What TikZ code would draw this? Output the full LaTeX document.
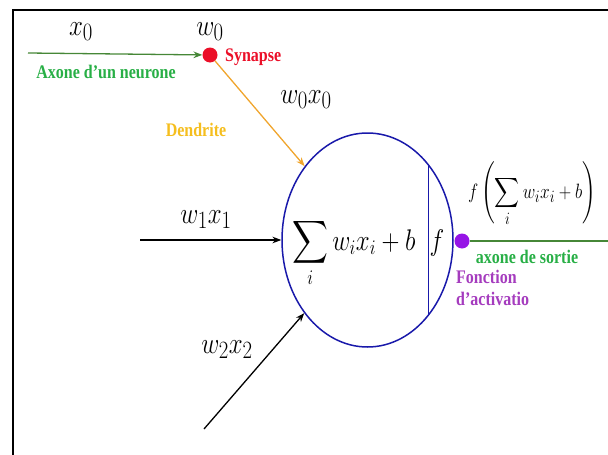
\documentclass[tikz,border=0pt]{standalone}
\usepackage{amsmath}
\usepackage{graphicx}
\usepackage[no-math]{fontspec}
\setmainfont{Liberation Serif}
\usepackage{tikz}
\usetikzlibrary{positioning,arrows.meta,shapes.geometric}

\definecolor{axgreen}{RGB}{70,135,55}
\definecolor{txtgreen}{RGB}{40,175,70}
\definecolor{synred}{RGB}{235,15,40}
\definecolor{dendorange}{RGB}{240,165,45}
\definecolor{dendtext}{RGB}{245,190,30}
\definecolor{cellblue}{RGB}{25,25,170}
\definecolor{actpurple}{RGB}{150,20,230}
\definecolor{acttext}{RGB}{165,60,190}

% taller glyphs, as in the scan
\newcommand{\tall}[1]{\scalebox{1}[1.2]{#1}}

\begin{document}
\begin{tikzpicture}[
        x=1pt, y=-1pt,
        >=Stealth,
        lbl/.style={font=\bfseries\fontsize{16}{23}\selectfont, inner sep=0pt},
        mth/.style={font=\fontsize{28}{32}\selectfont, inner sep=0pt},
        body/.style={font=\fontsize{25}{30}\selectfont, inner sep=0pt},
        dot/.style={circle, inner sep=0pt, minimum size=15pt},
        wire/.style={->, line width=1.3pt}
      ]
      \useasboundingbox (0,0) rectangle (608,455);
      \clip (0,0) rectangle (608,455);

      % Frame
      \draw[line width=2.6pt] (13,460) -- (13,10) -- (612,10);

      % Neuron body
      \node[draw=cellblue, line width=1.5pt, ellipse, minimum width=171pt, minimum height=214pt, inner sep=0pt] (cell) at (367.5,240) {};
      \coordinate (fTop) at (428,164.4);
      \coordinate (fBot) at (428,315.6);
      \draw[cellblue, line width=1pt] (fTop) -- (fBot);
      \node[body, anchor=base west] (sum) at (292,250) {\tall{$\displaystyle\sum_i w_ix_i+b$}};
      \node[body, anchor=base] (fun) at (437,250) {\tall{$f$}};

      % Input axon and synapse
      \coordinate (ax0) at (28,53);
      \node[dot, fill=synred] (syn) at (210,55) {};
      \node[mth, anchor=base] (x0) at (81,35) {\tall{$x_0$}};
      \node[mth, anchor=base] (w0) at (210,35) {\tall{$w_0$}};
      \node[lbl, text=synred, anchor=west] (synlbl) at (225,57) {\tall{Synapse}};
      \node[lbl, text=txtgreen] (axlbl) at (106,72) {\tall{Axone d'un neurone}};
      \node[mth, anchor=base] (w0x0) at (306,103) {\tall{$w_0x_0$}};
      \node[lbl, text=dendtext] (dendlbl) at (196,130) {\tall{Dendrite}};

      % Other inputs
      \coordinate (in1) at (140,240);
      \coordinate (in2) at (204,429);
      \node[mth, anchor=base] (w1x1) at (206,223) {\tall{$w_1x_1$}};
      \node[mth, anchor=base] (w2x2) at (227,353) {\tall{$w_2x_2$}};

      % Output
      \node[dot, fill=actpurple] (act) at (462,241) {};
      \coordinate (axEnd) at (612,241);
      \node[font=\fontsize{19}{23}\selectfont, inner sep=0pt, anchor=base west] (out) at (468,198) {\tall{$f\left(\displaystyle\sum_i w_ix_i+b\right)$}};
      \node[lbl, text=txtgreen] (outlbl) at (527,257) {\tall{axone de sortie}};
      \node[lbl, text=acttext, anchor=west] (actlbl1) at (456,277) {\tall{Fonction}};
      \node[lbl, text=acttext, anchor=west] (actlbl2) at (456,299) {\tall{d'activatio}};

      % Connections
      \draw[->, axgreen, line width=1.3pt] (ax0) -- (syn);
      \draw[->, dendorange, line width=1.3pt] (syn) -- (cell);
      \draw[wire] (in1) -- (cell);
      \draw[wire] (in2) -- (cell);
      \draw[axgreen, line width=1.6pt] (act) -- (axEnd);

    \end{tikzpicture}
\end{document}
